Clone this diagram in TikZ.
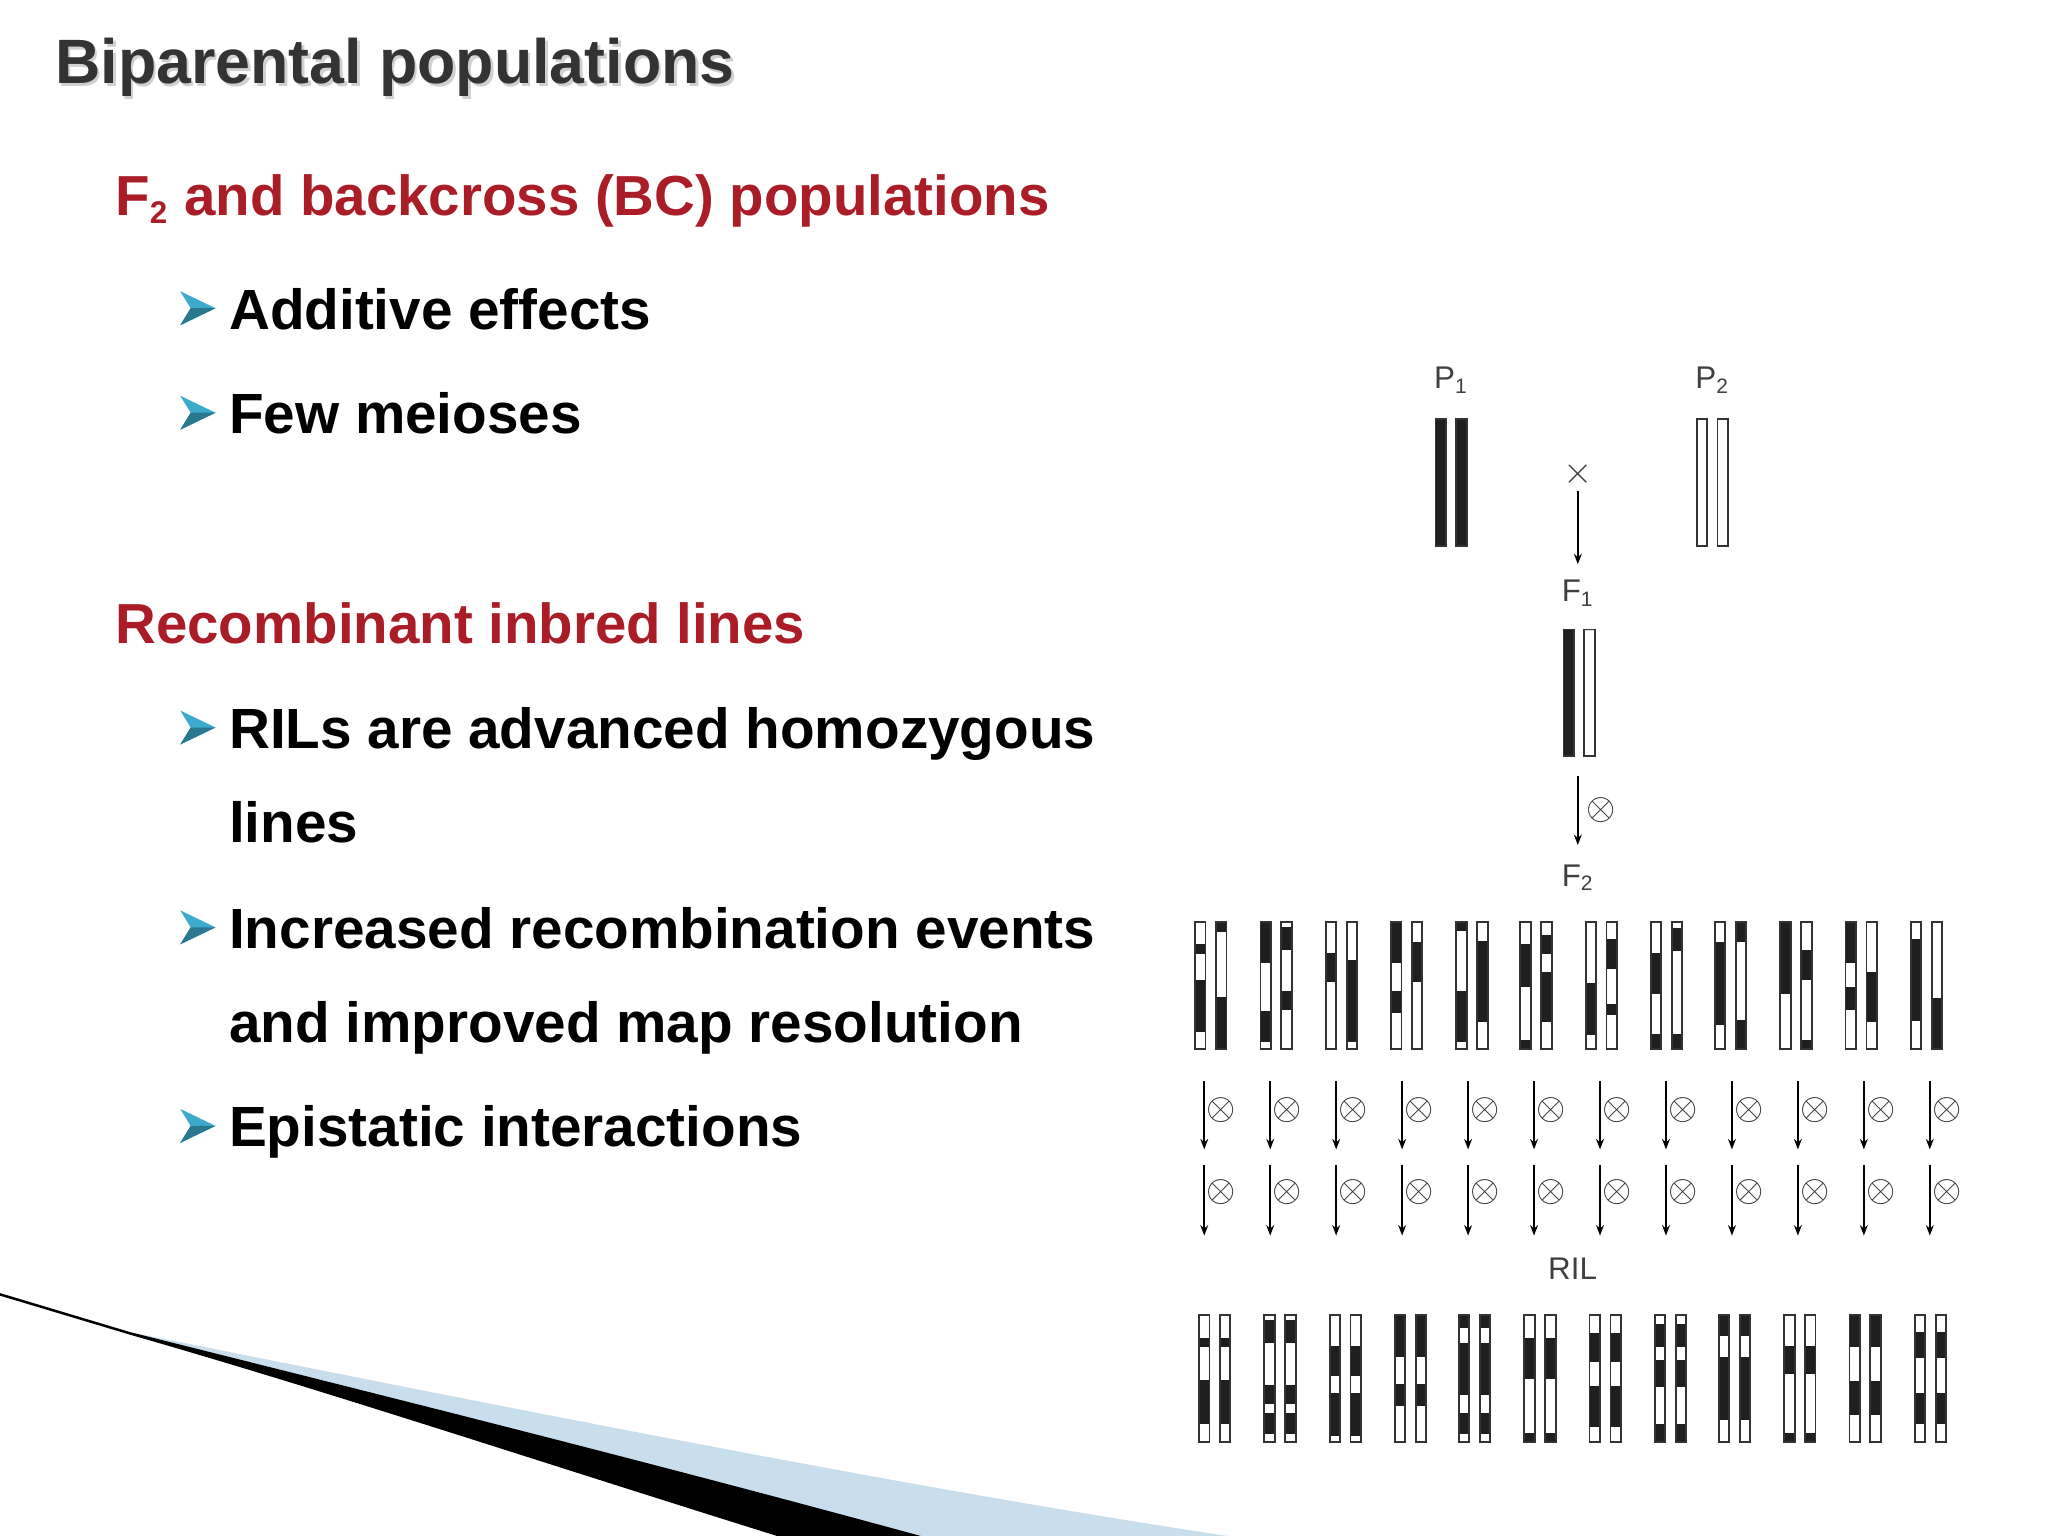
\documentclass[tikz,border=0pt]{standalone}
\usepackage{fontspec}
\setmainfont{Liberation Sans}
\usetikzlibrary{arrows.meta}
\definecolor{headred}{RGB}{170,28,38}
\definecolor{bul}{RGB}{60,170,205}
\definecolor{swblue}{RGB}{200,222,236}
\newcommand\chr[3]{%
  \foreach \a/\b in {#3} {\fill[black!88] (#1,{#2+\a*97}) rectangle ({#1+8},{#2+\b*97});}
  \draw[line width=0.7pt, black!80] (#1,#2) rectangle ({#1+8},{#2+97});}
\newcommand\chrpair[4]{\chr{#1}{#2}{#3}\chr{#1+16}{#2}{#4}}
\newcommand\bull[2]{\fill[bul] (#1,#2-13) -- (#1+27,#2) -- (#1,#2+13) -- (#1+8,#2) -- cycle;
  \fill[bul!70!black] (#1,#2+13) -- (#1+27,#2) -- (#1+8,#2) -- cycle;}
\begin{document}
\begin{tikzpicture}[x=0.5pt,y=-0.5pt,
  bodytxt/.style={anchor=base west, font=\fontsize{21.7}{24}\selectfont\bfseries, inner sep=0},
  headtxt/.style={anchor=base west, font=\fontsize{21.6}{24}\selectfont\bfseries, text=headred, inner sep=0},
  lab/.style={font=\fontsize{12}{14}\selectfont, text=black!75, inner sep=0},
  cr/.style={font=\fontsize{15}{15}\selectfont, text=black!80, inner sep=0},
  arr/.style={-{Stealth[length=4pt,width=3pt]}, line width=0.7pt}]
\useasboundingbox (0,0) rectangle (1568,1176);
\fill[white] (0,0) rectangle (1568,1176);
% swoosh
\fill[swblue] (100,1020) .. controls (400,1080) and (700,1140) .. (940,1176) -- (700,1176) .. controls (500,1120) and (300,1070) .. (100,1020) -- cycle;
\fill[black] (0,990) -- (100,1020) .. controls (300,1070) and (500,1120) .. (705,1176) -- (595,1176) .. controls (400,1115) and (250,1065) .. (100,1022) -- (0,992) -- cycle;
% title
\node[anchor=base west, inner sep=0, font=\fontsize{24}{28}\selectfont\bfseries, text=black!30, opacity=0.6] at (44,66) {Biparental populations};
\node (title) [anchor=base west, inner sep=0, font=\fontsize{24}{28}\selectfont\bfseries, text=black!80] at (42,64) {Biparental populations};
\node (h1) [headtxt] at (88,165) {F\textsubscript{\fontsize{12}{12}\selectfont 2} and backcross (BC) populations};
\bull{138}{236}\node (b1) [bodytxt] at (175,252) {Additive effects};
\bull{138}{316}\node (b2) [bodytxt] at (175,332) {Few meioses};
\node (h2) [headtxt] at (88,493) {Recombinant inbred lines};
\bull{138}{557}\node (b3) [bodytxt] at (175,573) {RILs are advanced homozygous};
\node (b3b) [bodytxt] at (175,645) {lines};
\bull{138}{710}\node (b4) [bodytxt] at (175,726) {Increased recombination events};
\node (b4b) [bodytxt] at (175,798) {and improved map resolution};
\bull{138}{862}\node (b5) [bodytxt] at (175,878) {Epistatic interactions};
% crossing scheme
\node (p1) [lab] at (1111,291) {P\textsubscript{1}};
\node (p2) [lab] at (1311,291) {P\textsubscript{2}};
\chrpair{1099}{321}{0/1}{0/1}
\chrpair{1299}{321}{0/0}{0/0}
\node (x) [lab, font=\fontsize{14}{14}\selectfont] at (1208,363) {$\times$};
\coordinate (a1s) at (1208,376); \coordinate (a1e) at (1208,432);
\draw[arr] (a1s) -- (a1e);
\node (f1) [lab] at (1208,454) {F\textsubscript{1}};
\chrpair{1197}{482}{0/1}{0/0}
\coordinate (a2s) at (1208,594); \coordinate (a2e) at (1208,647);
\draw[arr] (a2s) -- (a2e);
\node (s0) [cr] at (1226,620) {$\otimes$};
\node (f2) [lab] at (1208,672) {F\textsubscript{2}};
% F2 row
\chrpair{915}{706}{.17/.25,.46/.87}{0/.08,.59/1}
\chrpair{965}{706}{0/.32,.70/.95}{.04/.22,.54/.69}
\chrpair{1015}{706}{.24/.47}{.3/.95}
\chrpair{1065}{706}{0/.32,.54/.72}{.16/.47}
\chrpair{1115}{706}{0/.07,.54/.95}{.15/.79}
\chrpair{1164}{706}{.17/.51,.93/1}{.1/.25,.39/.79}
\chrpair{1214}{706}{.48/.89}{.13/.37,.65/.73}
\chrpair{1264}{706}{.24/.57,.88/1}{.05/.23,.88/1}
\chrpair{1313}{706}{.16/.81}{0/.16,.77/1}
\chrpair{1363}{706}{0/.57}{.22/.46,.93/1}
\chrpair{1413}{706}{0/.32,.51/.69}{.39/.79}
\chrpair{1463}{706}{.13/.78}{.6/1}
% selfing arrows
\foreach \i in {0,...,11} {
  \coordinate (u\i) at ({922+50.5*\i},828); \coordinate (v\i) at ({922+50.5*\i},880);
  \draw[arr] (u\i) -- (v\i);
  \node (o\i) [cr] at ({935+50.5*\i},850) {$\otimes$};
  \coordinate (w\i) at ({922+50.5*\i},892); \coordinate (z\i) at ({922+50.5*\i},946);
  \draw[arr] (w\i) -- (z\i);
  \node (q\i) [cr] at ({935+50.5*\i},913) {$\otimes$};
}
\node (ril) [lab] at (1204,971) {RIL};
% RIL row
\chrpair{918}{1007}{.18/.25,.51/.86}{.18/.25,.51/.86}
\chrpair{968}{1007}{.04/.22,.55/.7,.77/.94}{.04/.22,.55/.7,.77/.94}
\chrpair{1018}{1007}{.24/.48,.61/.95}{.24/.48,.61/.95}
\chrpair{1068}{1007}{0/.33,.54/.72}{0/.33,.54/.72}
\chrpair{1117}{1007}{0/.1,.22/.63,.77/.94}{0/.1,.22/.63,.77/.94}
\chrpair{1167}{1007}{.18/.5,.93/1}{.18/.5,.93/1}
\chrpair{1217}{1007}{.14/.37,.56/.88}{.14/.37,.56/.88}
\chrpair{1267}{1007}{.07/.25,.35/.57,.86/1}{.07/.25,.35/.57,.86/1}
\chrpair{1316}{1007}{0/.16,.33/.83}{0/.16,.33/.83}
\chrpair{1366}{1007}{.24/.46,.93/1}{.24/.46,.93/1}
\chrpair{1416}{1007}{0/.25,.52/.79}{0/.25,.52/.79}
\chrpair{1466}{1007}{.13/.34,.61/.86}{.13/.34,.61/.86}
\end{tikzpicture}
\end{document}
